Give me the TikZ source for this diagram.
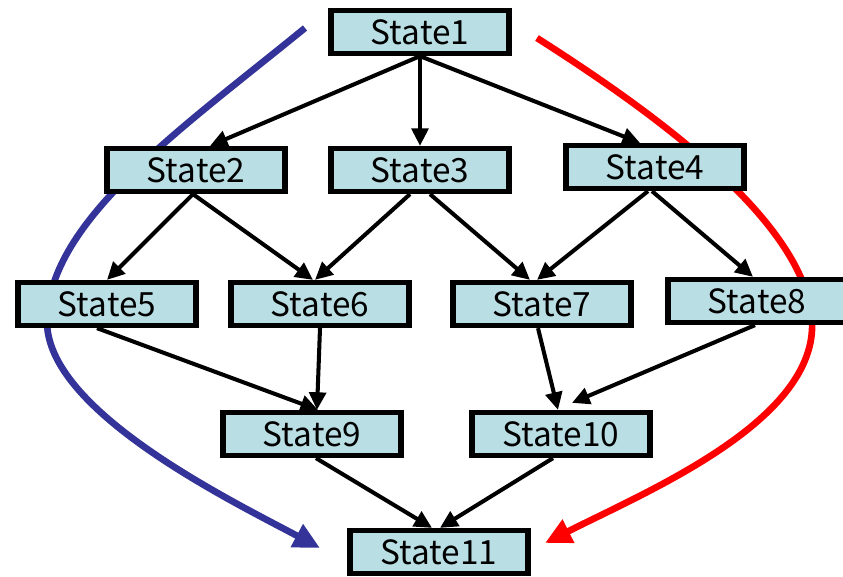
\documentclass[tikz,border=0pt]{standalone}
\usepackage{fontspec}
\setmainfont{Noto Sans CJK JP}
\usetikzlibrary{arrows.meta,calc}
\definecolor{boxfill}{RGB}{185,222,227}
\definecolor{pathblue}{RGB}{51,51,153}
\definecolor{pathred}{rgb}{1,0,0}
\tikzset{
  state/.style={draw=black, line width=3pt, fill=boxfill, minimum width=3.56cm,
    minimum height=0.86cm, inner sep=0pt, font=\fontsize{19}{21}\selectfont},
  link/.style={line width=2.3pt, -{Triangle[length=10pt,width=9.5pt]}},
  route/.style={line width=3.8pt, -{Triangle[length=15pt,width=14pt]}}
}
\begin{document}
\begin{tikzpicture}[x=0.02cm, y=-0.02cm]
  \useasboundingbox (0,0) rectangle (843,576);

  % Outer routes (behind the states)
  \coordinate (bstart) at (305,28);
  \coordinate (bend) at (320,548);
  \coordinate (rstart) at (537,38);
  \coordinate (rend) at (545,543);
  \draw[route, pathblue] (bstart) .. controls (180,130) and (50,220) .. (47,320)
    .. controls (45,410) and (230,500) .. (bend);
  \draw[route, pathred] (rstart) .. controls (650,110) and (805,220) .. (812,320)
    .. controls (818,420) and (650,490) .. (rend);

  % States
  \node[state] (s1) at (420,32) {State1};
  \node[state] (s2) at (196,170) {State2};
  \node[state] (s3) at (420,170) {State3};
  \node[state] (s4) at (655,167) {State4};
  \node[state] (s5) at (107,304) {State5};
  \node[state] (s6) at (320,304) {State6};
  \node[state] (s7) at (542,304) {State7};
  \node[state] (s8) at (757,301) {State8};
  \node[state] (s9) at (312,434) {State9};
  \node[state] (s10) at (561,434) {State10};
  \node[state] (s11) at (439,552) {State11};

  % Transitions
  \draw[link] (s1.south) -- ($(s2.north)+(14,0)$);
  \draw[link] (s1.south) -- (s3.north);
  \draw[link] (s1.south) -- ($(s4.north)+(-15,0)$);
  \draw[link] ($(s2.south)+(-3,0)$) -- (s5.north);
  \draw[link] ($(s2.south)+(-3,0)$) -- ($(s6.north)+(-7,0)$);
  \draw[link] ($(s3.south)+(-10,0)$) -- ($(s6.north)+(-5,0)$);
  \draw[link] ($(s3.south)+(10,0)$) -- ($(s7.north)+(-12,0)$);
  \draw[link] ($(s4.south)+(-7,0)$) -- ($(s7.north)+(-5,0)$);
  \draw[link] ($(s4.south)+(-3,0)$) -- ($(s8.north)+(-4,0)$);
  \draw[link] ($(s5.south)+(-10,0)$) -- ($(s9.north)+(6,0)$);
  \draw[link] (s6.south) -- ($(s9.north)+(5,0)$);
  \draw[link] ($(s7.south)+(-4,0)$) -- ($(s10.north)+(-3,0)$);
  \draw[link] ($(s8.south)+(-2,0)$) -- ($(s10.north)+(11,-7)$);
  \draw[link] ($(s9.south)+(4,0)$) -- ($(s11.north)+(-7,0)$);
  \draw[link] ($(s10.south)+(-8,0)$) -- ($(s11.north)+(1,0)$);
\end{tikzpicture}
\end{document}
